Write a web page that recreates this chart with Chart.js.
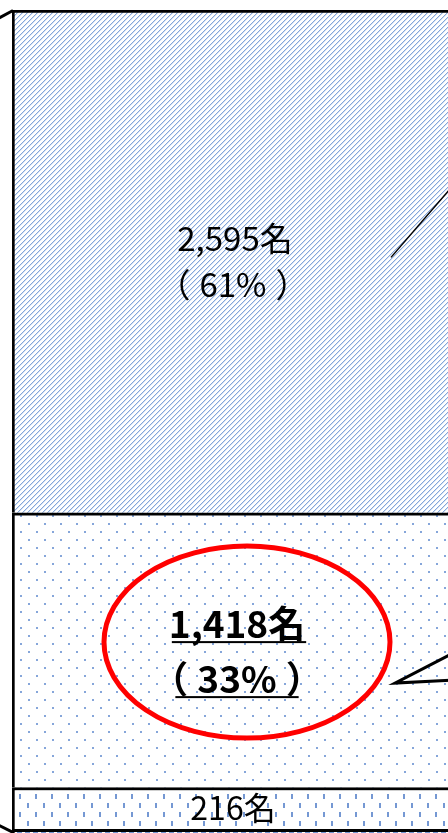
<!DOCTYPE html>
<html><head><meta charset="utf-8">
<style>
html,body{margin:0;padding:0;overflow:hidden;background:#fff;width:448px;height:833px}
#wrap{position:absolute;left:0;top:0}
</style>
<script src="https://cdn.jsdelivr.net/npm/chart.js@4"></script>
</head><body><div id="wrap"><canvas id="c" width="462" height="839"></canvas></div>
<script>
// Data (segments listed top to bottom)
const categories = [''];
const seriesNames = ['区分A', '区分B', '区分C', '区分D'];
const seriesValues = [2595, 1418, 216, 50];
const countLabels = ['2,595名', '1,418名', '216名', ''];
const percentLabels = ['（61%）', '（33%）', '', ''];

function makePattern(w, h, draw) {
  const c = document.createElement('canvas');
  c.width = w; c.height = h;
  const x = c.getContext('2d');
  x.fillStyle = '#fff'; x.fillRect(0, 0, w, h);
  draw(x);
  return x.createPattern(c, 'repeat');
}
const ctx0 = document.getElementById('c').getContext('2d');
const diagPat = makePattern(5, 5, x => {
  for (let i = 0; i < 5; i++) {
    x.fillStyle = '#84A6DA'; x.fillRect(i, 4 - i, 1, 1);
    x.fillStyle = '#D6E2F4'; x.fillRect(i, (5 - i) % 5, 1, 1);
  }
});
const dotPat = makePattern(16, 16, x => {
  x.fillStyle = '#86A6DA';
  x.fillRect(4, 3, 2, 2); x.fillRect(12, 11, 2, 2);
});
const dashPat = makePattern(16, 18, x => {
  x.fillStyle = '#7598D3';
  x.fillRect(3, 2, 2, 5); x.fillRect(11, 11, 2, 5);
});
const hdashPat = makePattern(8, 4, x => {
  x.fillStyle = '#6F95D2';
  x.fillRect(1, 0, 5, 3);
});
const patterns = [diagPat, dotPat, dashPat, hdashPat];
const total = seriesValues.reduce((a, b) => a + b, 0);

// datasets stacked bottom-up
const datasets = seriesNames.map((n, i) => ({
  label: n,
  data: [seriesValues[i]],
  backgroundColor: patterns[i],
  borderColor: '#000',
  borderWidth: {top: 3, left: 3, right: 2, bottom: 0},
  borderSkipped: false,
  barPercentage: 1,
  categoryPercentage: 1,
  _idx: i
})).reverse();

const FONT = '"Noto Sans CJK JP", "Noto Sans", sans-serif';

// draws "（xx）" with the inner part centred and the parens pushed outward; returns ink extents
function drawParenText(c, text, cx, by, shift) {
  const inner = text.slice(1, -1);
  const w = c.measureText(inner).width;
  c.textAlign = 'center';
  c.fillText(inner, cx, by);
  c.textAlign = 'left';
  const lp = c.measureText('（');
  const xl = cx - w / 2 - lp.width - shift;
  c.fillText('（', xl, by);
  const xr = cx + w / 2 + shift;
  const rp = c.measureText('）');
  c.fillText('）', xr, by);
  c.textAlign = 'center';
  return [xl - lp.actualBoundingBoxLeft, xr + rp.actualBoundingBoxRight];
}

const labelPlugin = {
  id: 'labels',
  beforeDraw(chart) {
    const c = chart.ctx;
    c.save(); c.fillStyle = '#fff'; c.fillRect(0, 0, chart.width, chart.height); c.restore();
  },
  afterDatasetsDraw(chart) {
    const c = chart.ctx;
    const ca = chart.chartArea;
    c.save();
    const els = [];
    chart.data.datasets.forEach((ds, di) => {
      const el = chart.getDatasetMeta(di).data[0];
      els[ds._idx] = el;
    });
    c.fillStyle = '#000';
    c.textAlign = 'center';
    c.textBaseline = 'alphabetic';
    // top segment
    let e = els[0], cy = (e.y + e.base) / 2, cx = e.x;
    c.font = '33px ' + FONT;
    c.fillText(countLabels[0], cx - 2, cy - 10);
    drawParenText(c, percentLabels[0], cx - 4, cy + 36, 9);
    // middle segment (bold, underlined)
    e = els[1]; cy = (e.y + e.base) / 2;
    c.font = 'bold 37px ' + FONT;
    const b1 = cy - 12;
    c.fillText(countLabels[1], cx, b1);
    const m1 = c.measureText(countLabels[1]);
    c.fillRect(cx - m1.actualBoundingBoxLeft, b1 + 3, m1.actualBoundingBoxLeft + m1.actualBoundingBoxRight + 4, 2);
    const b2 = cy + 43;
    const ext = drawParenText(c, percentLabels[1], cx, b2, 9);
    c.fillRect(ext[0], b2 + 3, ext[1] - ext[0], 2);
    // red ellipse
    c.strokeStyle = '#FF0000';
    c.lineWidth = 5;
    c.beginPath();
    c.ellipse(cx + 10, cy - 8, 143, 96, 0, 0, Math.PI * 2);
    c.stroke();
    // bottom segment
    e = els[2]; cy = (e.y + e.base) / 2;
    c.font = '32px ' + FONT;
    c.fillText(countLabels[2], cx - 4, cy + 12);

    // callout lines
    c.strokeStyle = '#000';
    const t0 = (els[0].y + els[0].base) / 2;
    c.lineWidth = 1.5;
    c.beginPath(); c.moveTo(cx + 154, t0 - 4); c.lineTo(cx + 230, t0 - 92); c.stroke();
    const m0 = (els[1].y + els[1].base) / 2;
    c.lineWidth = 3;
    c.beginPath();
    c.moveTo(cx + 218, m0 + 2); c.lineTo(cx + 158, m0 + 33); c.lineTo(cx + 218, m0 + 30);
    c.stroke();
    // 3D corner strokes on the left
    c.lineWidth = 3;
    c.beginPath(); c.moveTo(ca.left + 1, ca.top + 0.5); c.lineTo(ca.left - 13, ca.top + 8); c.stroke();
    const yb = els[3].y;
    c.beginPath(); c.moveTo(ca.left + 1, yb + 3); c.lineTo(ca.left - 13, yb - 4); c.stroke();
    c.restore();
  }
};

new Chart(ctx0, {
  type: 'bar',
  data: { labels: categories, datasets },
  options: {
    responsive: false,
    animation: false,
    devicePixelRatio: 1,
    layout: { padding: { left: 12, top: 10, right: 0, bottom: 0 } },
    plugins: { legend: { display: false }, tooltip: { enabled: false } },
    scales: {
      x: { stacked: true, display: false },
      y: { stacked: true, display: false, min: 0, max: total }
    }
  },
  plugins: [labelPlugin]
});
</script>
</body></html>
